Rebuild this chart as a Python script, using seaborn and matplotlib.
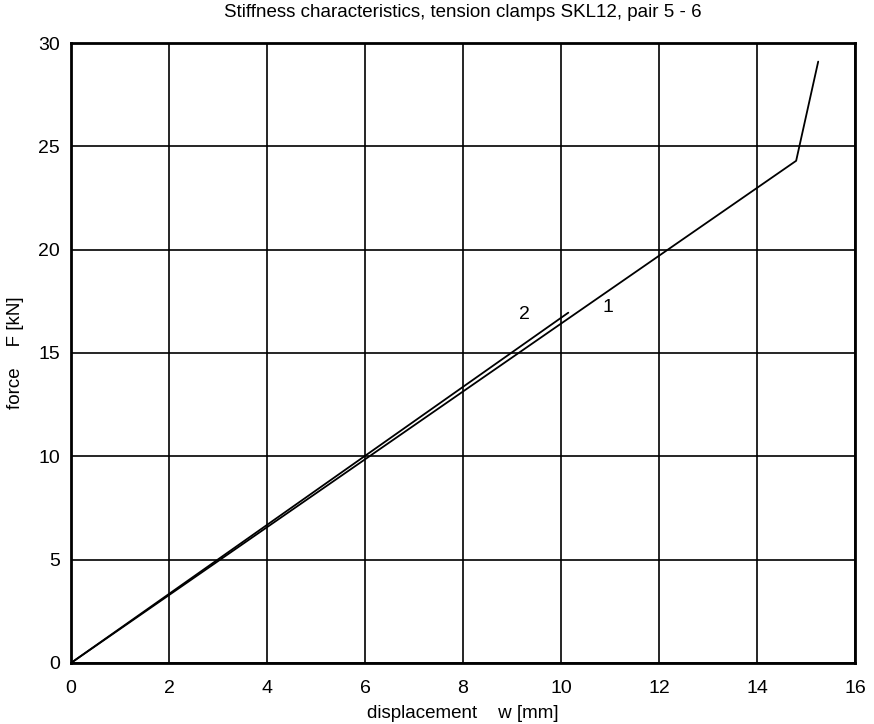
import pandas as pd
import matplotlib
matplotlib.use('Agg')
import matplotlib.pyplot as plt
import seaborn as sns

# ── data ─────────────────────────────────────────────────────────────────────
w_curve1 = [0.0, 14.8, 15.25]
F_curve1 = [0.0, 24.3, 29.1]
w_curve2 = [0.0, 10.15]
F_curve2 = [0.0, 16.95]

curve_labels = ['1', '2']
label_pos_w = [10.95, 9.25]
label_pos_F = [17.2, 16.85]

x_ticks = [0, 2, 4, 6, 8, 10, 12, 14, 16]
y_ticks = [0, 5, 10, 15, 20, 25, 30]

sns.set_theme(style='white')
plt.rcParams['font.family'] = ['Liberation Sans', 'DejaVu Sans']

df = pd.concat([
    pd.DataFrame({'w': w_curve1, 'F': F_curve1, 'curve': '1'}),
    pd.DataFrame({'w': w_curve2, 'F': F_curve2, 'curve': '2'}),
], ignore_index=True)

fig = plt.figure(figsize=(8.74, 7.24), dpi=100)
ax = fig.add_axes([0.0812, 0.0843, 0.8970, 0.8563])

sns.lineplot(data=df, x='w', y='F', units='curve', estimator=None,
             sort=False, color='black', linewidth=1.3, ax=ax)

for lab, xw, yf in zip(curve_labels, label_pos_w, label_pos_F):
    ax.text(xw, yf, lab, fontsize=14, ha='center', va='center', color='black')

ax.set_xlim(0, 16)
ax.set_ylim(0, 30)
ax.set_xticks(x_ticks)
ax.set_yticks(y_ticks)
ax.grid(True, color='black', linewidth=1.2, linestyle='-')
for s in ax.spines.values():
    s.set_color('black')
    s.set_linewidth(2.0)
ax.tick_params(axis='both', labelsize=14, colors='black', length=0)
ax.tick_params(axis='x', pad=12)
ax.tick_params(axis='y', pad=8)

ax.set_xlabel('displacement    w [mm]', fontsize=13.5, color='black', labelpad=6)
ax.set_ylabel('force    F [kN]', fontsize=13.5, color='black', labelpad=10)
ax.set_title('Stiffness characteristics, tension clamps SKL12, pair 5 - 6',
             fontsize=13.5, color='black', pad=19)

fig.savefig('out.png', dpi=100)
plt.close(fig)
